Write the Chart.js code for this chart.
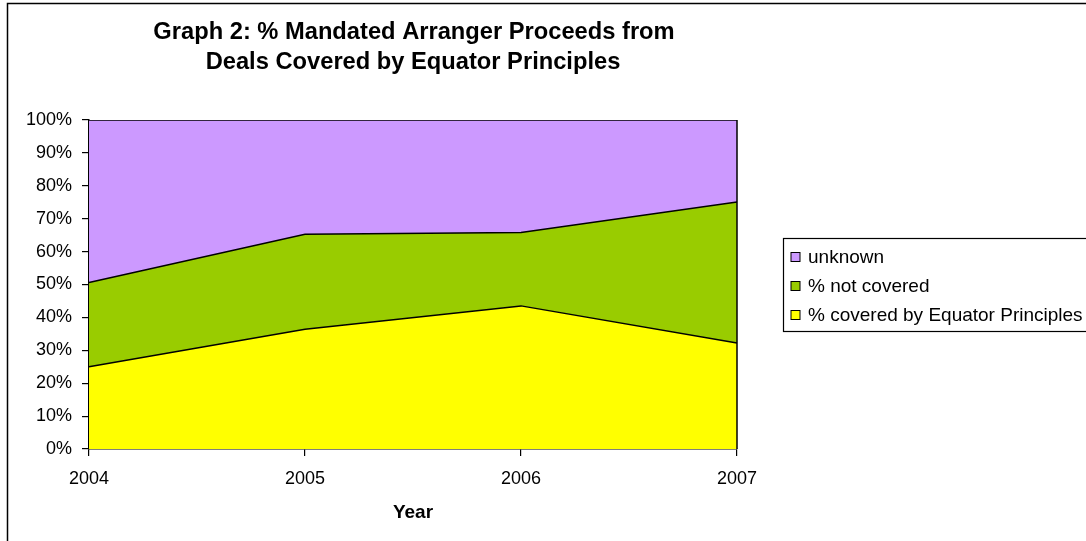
<!DOCTYPE html>
<html>
<head>
<meta charset="utf-8">
<script src="https://cdn.jsdelivr.net/npm/chart.js@4/dist/chart.umd.min.js"></script>
<style>
    body { margin: 0; background: #ffffff; }
    #wrap { width: 1086px; height: 541px; }
</style>
</head>
<body>
<div id="wrap"><canvas id="eqChart" width="1086" height="541"></canvas></div>
<script>
// Values (percent of mandated arranger proceeds)
const years = ['2004', '2005', '2006', '2007'];
const coveredEP = [25.0, 36.4, 43.5, 32.2];
const notCovered = [25.6, 28.9, 22.3, 42.9];
const unknown = [49.4, 34.7, 34.2, 24.9];

const titleLines = ['Graph 2: % Mandated Arranger Proceeds from', 'Deals Covered by Equator Principles'];
const FONT = '"Liberation Sans", Arial, sans-serif';

// Draws the outer frame, the title, the right edge of the plot and the legend box
const decorPlugin = {
    id: 'decor',
    afterDraw(chart) {
        const ctx = chart.ctx;
        const area = chart.chartArea;
        ctx.save();

        // outer frame
        ctx.strokeStyle = '#000000';
        ctx.lineWidth = 1.5;
        ctx.strokeRect(7.5, 3.5, 1200, 600);

        // right edge of plot
        ctx.beginPath();
        ctx.moveTo(area.right, area.top);
        ctx.lineTo(area.right, area.bottom);
        ctx.stroke();

        // title
        ctx.fillStyle = '#000000';
        ctx.font = 'bold 23.7px ' + FONT;
        ctx.textAlign = 'center';
        ctx.textBaseline = 'middle';
        ctx.fillText(titleLines[0], 414, 32);
        ctx.fillText(titleLines[1], 413, 62);

        // legend, listed top to bottom like the stack
        const items = chart.data.datasets.slice().reverse();
        ctx.fillStyle = '#ffffff';
        ctx.fillRect(783.5, 238.5, 400, 93);
        ctx.lineWidth = 1.2;
        ctx.strokeRect(783.5, 238.5, 400, 93);
        ctx.font = '19px ' + FONT;
        ctx.textAlign = 'left';
        items.forEach((ds, i) => {
            const y = 257 + i * 29;
            ctx.fillStyle = ds.backgroundColor;
            ctx.fillRect(791, y - 4.5, 9, 9);
            ctx.strokeStyle = '#000000';
            ctx.lineWidth = 1;
            ctx.strokeRect(791, y - 4.5, 9, 9);
            ctx.fillStyle = '#000000';
            ctx.fillText(ds.label, 808, y + 1);
        });
        ctx.restore();
    }
};

new Chart(document.getElementById('eqChart'), {
    type: 'line',
    data: {
        labels: years,
        datasets: [
            {
                label: '% covered by Equator Principles',
                data: coveredEP,
                backgroundColor: '#FFFF00',
                fill: 'origin'
            },
            {
                label: '% not covered',
                data: notCovered,
                backgroundColor: '#99CC00',
                fill: '-1'
            },
            {
                label: 'unknown',
                data: unknown,
                backgroundColor: '#CC99FF',
                fill: '-1'
            }
        ]
    },
    options: {
        responsive: false,
        animation: false,
        devicePixelRatio: 1,
        layout: { padding: { left: 0, top: 120, right: 349, bottom: 0 } },
        elements: {
            line: { borderColor: '#000000', borderWidth: 1.5, tension: 0 },
            point: { radius: 0, hoverRadius: 0 }
        },
        plugins: {
            legend: { display: false },
            title: { display: false },
            tooltip: { enabled: false }
        },
        scales: {
            x: {
                offset: false,
                afterFit: (scale) => { scale.height = 92; },
                grid: { drawOnChartArea: false, tickLength: 7, color: '#000000', lineWidth: 1.2 },
                border: { color: '#000000', width: 1.5 },
                ticks: { color: '#000000', font: { family: FONT, size: 18 }, padding: 12, maxRotation: 0 },
                title: {
                    display: true,
                    text: 'Year',
                    color: '#000000',
                    font: { family: FONT, size: 19, weight: 'bold' },
                    padding: { top: 0, bottom: 17 }
                }
            },
            y: {
                stacked: true,
                min: 0,
                max: 100,
                afterFit: (scale) => { scale.width = 89; },
                grid: { drawOnChartArea: false, tickLength: 7, color: '#000000', lineWidth: 1.2 },
                border: { color: '#000000', width: 1.5 },
                ticks: {
                    stepSize: 10,
                    color: '#000000',
                    font: { family: FONT, size: 18 },
                    padding: 10,
                    callback: (v) => v + '%'
                }
            }
        }
    },
    plugins: [decorPlugin]
});
</script>
</body>
</html>
